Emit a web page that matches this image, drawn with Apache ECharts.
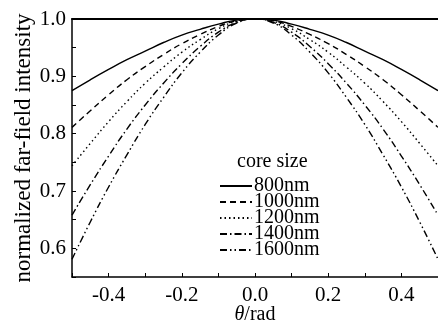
<!DOCTYPE html>
<html><head><meta charset="utf-8">
<script src="https://cdn.jsdelivr.net/npm/echarts@6/dist/echarts.min.js"></script>
<style>html,body{margin:0;padding:0;background:#fff}#c{width:438px;height:322px}</style>
</head><body><div id="c"></div>
<script>
const theta = [-0.5,-0.45,-0.4,-0.35,-0.3,-0.25,-0.2,-0.15,-0.1,-0.05,0,0.05,0.1,0.15,0.2,0.25,0.3,0.35,0.4,0.45,0.5];
const s800  = [0.875,0.894,0.912,0.929,0.944,0.959,0.972,0.982,0.991,0.998,1.000,0.998,0.991,0.982,0.972,0.959,0.944,0.929,0.912,0.894,0.875];
const s1000 = [0.811,0.840,0.868,0.894,0.917,0.938,0.957,0.973,0.987,0.997,1.000,0.997,0.987,0.973,0.957,0.938,0.917,0.894,0.868,0.840,0.811];
const s1200 = [0.744,0.783,0.821,0.856,0.888,0.916,0.942,0.964,0.983,0.996,1.000,0.996,0.983,0.964,0.942,0.916,0.888,0.856,0.821,0.783,0.744];
const s1400 = [0.658,0.711,0.761,0.808,0.850,0.888,0.922,0.952,0.977,0.994,1.000,0.994,0.977,0.952,0.922,0.888,0.850,0.808,0.761,0.711,0.658];
const s1600 = [0.581,0.646,0.707,0.763,0.816,0.863,0.906,0.942,0.972,0.993,1.000,0.993,0.972,0.942,0.906,0.863,0.816,0.763,0.707,0.646,0.581];
const seriesNames = ['800nm','1000nm','1200nm','1400nm','1600nm'];
const xTickLabels = ['-0.4','-0.2','0.0','0.2','0.4'];
const yTickLabels = ['0.6','0.7','0.8','0.9','1.0'];

const FONT = 'Liberation Serif';
const dashes = ['solid',[6,4],[1.5,3],[7,3,1.5,3],[7,3,1.5,3,1.5,3]];
const allData = [s800,s1000,s1200,s1400,s1600];

const chart = echarts.init(document.getElementById('c'));
chart.setOption({
  animation:false,
  grid:{left:72,right:0,top:19,bottom:45,outerBoundsMode:'none',containLabel:false},
  title:{text:'core size',left:232,top:147,textStyle:{fontFamily:FONT,fontSize:20,fontWeight:'normal',color:'#000'}},
  legend:{
    orient:'vertical',left:214,top:171,itemWidth:32,itemHeight:10,itemGap:-4,
    itemStyle:{opacity:0,borderWidth:0},
    textStyle:{fontFamily:FONT,fontSize:20,lineHeight:16,color:'#000',padding:[0,0,0,-3]},
    data:seriesNames.map(n=>({name:n}))
  },
  xAxis:[{
    type:'value',min:-0.5,max:0.5,interval:0.1,
    name:'{i|θ}/rad',nameLocation:'middle',nameGap:28,nameMoveOverlap:false,
    nameTextStyle:{fontFamily:FONT,fontSize:20,color:'#000',rich:{i:{fontFamily:FONT,fontStyle:'italic',fontSize:20,color:'#000'}}},
    axisLine:{onZero:false,lineStyle:{color:'#000',width:1.5}},
    axisTick:{inside:true,length:4,lineStyle:{color:'#000',width:1}},
    axisLabel:{fontFamily:FONT,fontSize:21,color:'#000',margin:8,
      formatter:function(v){let s=v.toFixed(1);if(s==='-0.0')s='0.0';return xTickLabels.indexOf(s)>=0?s:'';}},
    splitLine:{show:false}
  },{
    type:'value',position:'top',min:-0.5,max:0.5,
    axisLine:{show:true,onZero:false,lineStyle:{color:'#000',width:2}},
    axisTick:{show:false},axisLabel:{show:false},splitLine:{show:false}
  }],
  yAxis:{
    type:'value',min:0.55,max:1.0,interval:0.05,
    name:'normalized far-field intensity',nameLocation:'middle',nameGap:37,nameMoveOverlap:false,
    nameTextStyle:{fontFamily:FONT,fontSize:23,color:'#000'},
    axisLine:{show:true,onZero:false,lineStyle:{color:'#000',width:1.5}},
    axisTick:{inside:true,length:4,lineStyle:{color:'#000',width:1}},
    axisLabel:{fontFamily:FONT,fontSize:21,color:'#000',margin:6,
      formatter:function(v){const s=v.toFixed(2);const t=v.toFixed(1);return (s.endsWith('0')&&yTickLabels.indexOf(t)>=0)?t:'';}},
    splitLine:{show:false}
  },
  series:seriesNames.map((n,i)=>({
    name:n,type:'line',symbol:'none',smooth:true,
    lineStyle:{color:'#000',width:1.4,type:dashes[i]},
    itemStyle:{color:'#000'},
    data:theta.map((t,j)=>[t,allData[i][j]])
  }))
});
</script></body></html>
